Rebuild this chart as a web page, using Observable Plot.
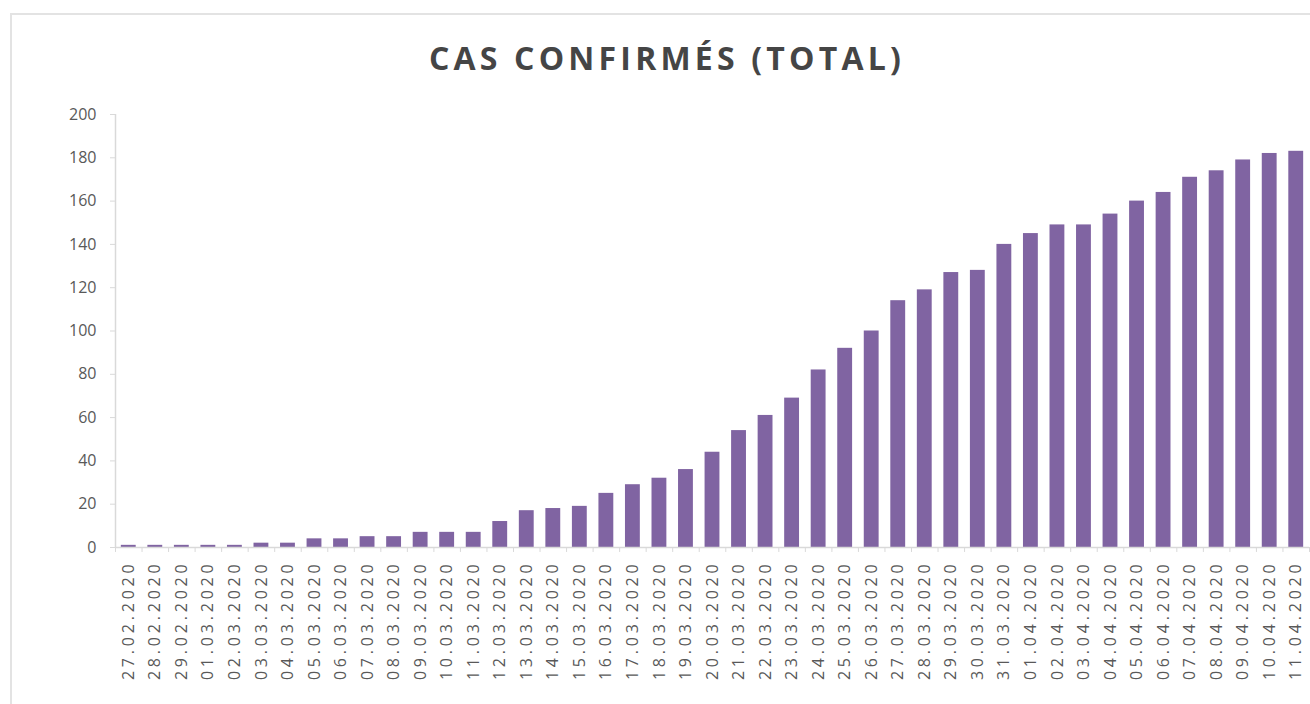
<!DOCTYPE html>
<html>
<head>
<meta charset="utf-8">
<script src="https://cdn.jsdelivr.net/npm/d3@7"></script>
<script src="https://cdn.jsdelivr.net/npm/@observablehq/plot@0.6"></script>
<style>
  html, body { margin: 0; padding: 0; background: #fff; width: 1310px; height: 704px; overflow: hidden; }
  #frame { position: absolute; left: 10px; top: 13px; width: 1310px; height: 700px;
           border-top: 2px solid #e3e3e3; border-left: 2px solid #e3e3e3; box-sizing: border-box; }
  #title { position: absolute; left: 0; top: 36px; width: 1334px; text-align: center;
           font-family: "Open Sans", sans-serif; font-weight: 700; font-size: 32px;
           letter-spacing: 4.2px; color: #454545; }
  #chart { position: absolute; left: 0; top: 100px; }
  #chart g[aria-label="x-axis tick label"] text { letter-spacing: 3.8px; }
</style>
</head>
<body>
<div id="frame"></div>
<div id="title">CAS CONFIRMÉS (TOTAL)</div>
<div id="chart"></div>
<script>
const dates = ["27.02.2020","28.02.2020","29.02.2020","01.03.2020","02.03.2020","03.03.2020","04.03.2020","05.03.2020","06.03.2020","07.03.2020","08.03.2020","09.03.2020","10.03.2020","11.03.2020","12.03.2020","13.03.2020","14.03.2020","15.03.2020","16.03.2020","17.03.2020","18.03.2020","19.03.2020","20.03.2020","21.03.2020","22.03.2020","23.03.2020","24.03.2020","25.03.2020","26.03.2020","27.03.2020","28.03.2020","29.03.2020","30.03.2020","31.03.2020","01.04.2020","02.04.2020","03.04.2020","04.04.2020","05.04.2020","06.04.2020","07.04.2020","08.04.2020","09.04.2020","10.04.2020","11.04.2020"];
const cases = [1,1,1,1,1,2,2,4,4,5,5,7,7,7,12,17,18,19,25,29,32,36,44,54,61,69,82,92,100,114,119,127,128,140,145,149,149,154,160,164,171,174,179,182,183];
const yTicks = [0,20,40,60,80,100,120,140,160,180,200];

const data = dates.map((d, i) => ({date: d, value: cases[i]}));

function build(step) {
  const marks = [
    Plot.barY(data, {x: "date", y: "value", fill: "#8064a2"}),
    Plot.ruleY([0], {stroke: "#d9d9d9", strokeWidth: 1.5}),
    Plot.axisY({ticks: yTicks, tickSize: 5, tickPadding: 14, stroke: "#d9d9d9", fill: "#595959",
                fontSize: 16, fontFamily: "Open Sans"}),
    Plot.axisX({tickSize: 0, tickRotate: -90, tickPadding: 13, fill: "#595959",
                fontSize: 16, fontFamily: "Open Sans"})
  ];
  if (step) {
    marks.push(Plot.ruleX([dates[0]], {x: d => d, dx: -step / 2, y1: 0, y2: 200, stroke: "#d9d9d9", strokeWidth: 1.5}));
    marks.push(Plot.ruleX(dates, {x: d => d, dx: step / 2, y1: 0, y2: -2.3, stroke: "#d9d9d9", strokeWidth: 1}));
    marks.push(Plot.ruleX([dates[0]], {x: d => d, dx: -step / 2, y1: 0, y2: -2.3, stroke: "#d9d9d9", strokeWidth: 1}));
  }
  return Plot.plot({
    width: 1310,
    height: 592,
    marginLeft: 115,
    marginRight: 1,
    marginTop: 14,
    marginBottom: 145,
    style: {background: "transparent", fontFamily: "Open Sans", overflow: "visible"},
    x: {domain: dates, paddingInner: 0.44, paddingOuter: 0.22, round: false, label: null},
    y: {domain: [0, 200], label: null},
    marks
  });
}

const first = build(0);
const step = first.scale("x").step;
document.getElementById("chart").append(build(step));
</script>
</body>
</html>
